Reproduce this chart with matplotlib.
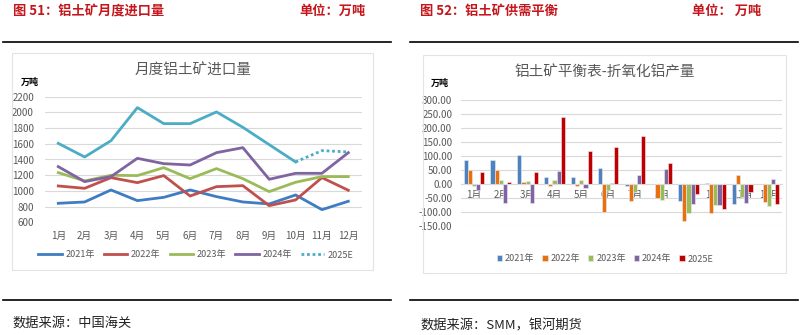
import numpy as np
import matplotlib
matplotlib.use("Agg")
import matplotlib.pyplot as plt
from matplotlib.patches import Rectangle
from matplotlib.lines import Line2D
from matplotlib.ticker import FormatStrFormatter

plt.rcParams['font.family'] = ['Noto Sans CJK SC', 'DejaVu Sans']
plt.rcParams['axes.unicode_minus'] = False

months = ['1月', '2月', '3月', '4月', '5月', '6月', '7月', '8月', '9月', '10月', '11月', '12月']

# left chart: monthly bauxite imports (万吨)
imp_2021 = [842, 859, 1012, 876, 918, 1012, 927, 859, 834, 948, 761, 868]
imp_2022 = [1063, 1033, 1169, 1105, 1195, 935, 1054, 1067, 812, 885, 1169, 1008]
imp_2023 = [1233, 1127, 1199, 1195, 1296, 1156, 1284, 1156, 991, 1110, 1182, 1182]
imp_2024 = [1309, 1118, 1182, 1415, 1347, 1330, 1487, 1551, 1148, 1224, 1224, 1487]
imp_2025 = [1606, 1432, 1640, 2061, 1857, 1857, 2006, 1810, 1589, 1369]
imp_2025e = [1369, 1513, 1496]   # 10月 -> 12月 estimate

# right chart: bauxite balance (万吨)
bal_2021 = [88, 88, 104, 24, 24, 56, -6, 2, -61, 4, -71, 2]
bal_2022 = [50, 52, 6, -6, -6, -101, -61, -51, -131, -105, 31, -65]
bal_2023 = [-6, 14, 10, 14, 14, -21, -27, -58, -104, -76, -45, -79]
bal_2024 = [-21, -69, -67, 46, -13, 3, 33, 55, -71, -76, -67, 18]
bal_2025 = [44, 6, 44, 240, 117, 132, 171, 76, -35, -88, -30, -73]

W, H = 802, 335
fig = plt.figure(figsize=(W / 100, H / 100), dpi=100)

def fx(px):
    return px / W

def fy(py):
    return 1 - py / H

RED = '#C4161C'
GRAY = '#595959'
GRID = '#D9D9D9'

# ---- headers / footers
fig.text(fx(13), fy(11), '图 51：铝土矿月度进口量', color=RED, fontsize=9.5, fontweight='bold', va='center')
fig.text(fx(299), fy(11), '单位：万吨', color=RED, fontsize=9.5, fontweight='bold', va='center')
fig.text(fx(420), fy(11), '图 52：铝土矿供需平衡', color=RED, fontsize=9.5, fontweight='bold', va='center')
fig.text(fx(692), fy(11), '单位： 万吨', color=RED, fontsize=9.5, fontweight='bold', va='center')

for x0, x1 in [(3, 391), (410, 798)]:
    fig.add_artist(Line2D([fx(x0), fx(x1)], [fy(42), fy(42)], color='black', lw=1.2))
    fig.add_artist(Line2D([fx(x0), fx(x1)], [fy(300), fy(300)], color='black', lw=1.2))

fig.text(fx(12), fy(323), '数据来源：中国海关', fontsize=9.5, va='center', color='#222222')
fig.text(fx(420), fy(326), '数据来源：SMM，银河期货', fontsize=9.5, va='center', color='#222222')

# chart area boxes
fig.add_artist(Rectangle((fx(12), fy(270)), fx(373) - fx(12), fy(53) - fy(270),
                         fill=False, ec='#E3E3E3', lw=0.8))
fig.add_artist(Rectangle((fx(423), fy(273)), fx(786) - fx(423), fy(55) - fy(273),
                         fill=False, ec='#E3E3E3', lw=0.8))

# ---- left: line chart
ax1 = fig.add_axes([fx(45.1), fy(222.3), fx(361.5) - fx(45.1), fy(96.7) - fy(222.3)])
x = np.arange(len(months))
ax1.plot(x, imp_2021, color='#3F7CC2', lw=2, label='2021年')
ax1.plot(x, imp_2022, color='#C0504D', lw=2, label='2022年')
ax1.plot(x, imp_2023, color='#9BBB59', lw=2, label='2023年')
ax1.plot(x, imp_2024, color='#8064A2', lw=2, label='2024年')
ax1.plot(x[:len(imp_2025)], imp_2025, color='#4BACC6', lw=2, label='_nolegend_')
ax1.plot(x[9:], imp_2025e, color='#4BACC6', lw=2, ls=(0, (1, 1)), label='2025E')
ax1.set_xlim(-0.5, 11.5)
ax1.set_ylim(600, 2200)
ax1.set_yticks(range(600, 2201, 200))
ax1.set_xticks(x)
ax1.set_xticklabels(months)
ax1.grid(axis='y', color=GRID, lw=0.8)
ax1.set_axisbelow(True)
for s in ax1.spines.values():
    s.set_visible(False)
ax1.tick_params(length=0, labelsize=7, labelcolor=GRAY)
ax1.tick_params(axis='x', pad=6)
ax1.tick_params(axis='y', pad=8)
ax1.patch.set_alpha(0)

fig.text(fx(193), fy(71), '月度铝土矿进口量', fontsize=10.5, color=GRAY, ha='center', va='center')
fig.text(fx(21), fy(82), '万吨', fontsize=6.5, fontweight='bold', ha='left', va='center')
fig.legend(*ax1.get_legend_handles_labels(), loc='center', bbox_to_anchor=(fx(196), fy(255)),
           ncol=5, frameon=False, fontsize=6.5, handlelength=2.6, columnspacing=1.0,
           handletextpad=0.4, labelcolor=GRAY, borderpad=0, borderaxespad=0)

# ---- right: grouped bars
ax2 = fig.add_axes([fx(460.6), fy(226), fx(782.4) - fx(460.6), fy(100.3) - fy(226)])
series = [(bal_2021, '#4F81BD', '2021年'), (bal_2022, '#E8700E', '2022年'),
          (bal_2023, '#9BBB59', '2023年'), (bal_2024, '#8064A2', '2024年'),
          (bal_2025, '#C00000', '2025E')]
bw = 0.155
for k, (vals, col, lab) in enumerate(series):
    ax2.bar(x + (k - 2) * bw, vals, width=bw, color=col, label=lab,
            edgecolor='#E8EEF6', linewidth=0.4)
ax2.set_xlim(-0.5, 11.5)
ax2.set_ylim(-150, 300)
ax2.set_yticks(range(-150, 301, 50))
ax2.yaxis.set_major_formatter(FormatStrFormatter('%.2f'))
ax2.set_xticks(x)
ax2.set_xticklabels(months)
ax2.grid(axis='y', color=GRID, lw=0.8)
ax2.set_axisbelow(True)
for s in ['top', 'left', 'right']:
    ax2.spines[s].set_visible(False)
ax2.spines['bottom'].set_position(('data', 0))
ax2.spines['bottom'].set_color(GRID)
ax2.tick_params(length=0, labelsize=7, labelcolor=GRAY)
ax2.tick_params(axis='x', pad=4)
ax2.tick_params(axis='y', pad=6)
ax2.patch.set_alpha(0)

fig.text(fx(605), fy(72), '铝土矿平衡表-折氧化铝产量', fontsize=10.5, color=GRAY, ha='center', va='center')
fig.text(fx(431), fy(83), '万吨', fontsize=6.5, fontweight='bold', ha='left', va='center')
fig.legend(*ax2.get_legend_handles_labels(), loc='center', bbox_to_anchor=(fx(605), fy(259)),
           ncol=5, frameon=False, fontsize=6.5, handlelength=0.6, handleheight=0.6,
           columnspacing=0.9, handletextpad=0.3, labelcolor=GRAY, borderpad=0, borderaxespad=0)

fig.savefig('out.png', dpi=100)
